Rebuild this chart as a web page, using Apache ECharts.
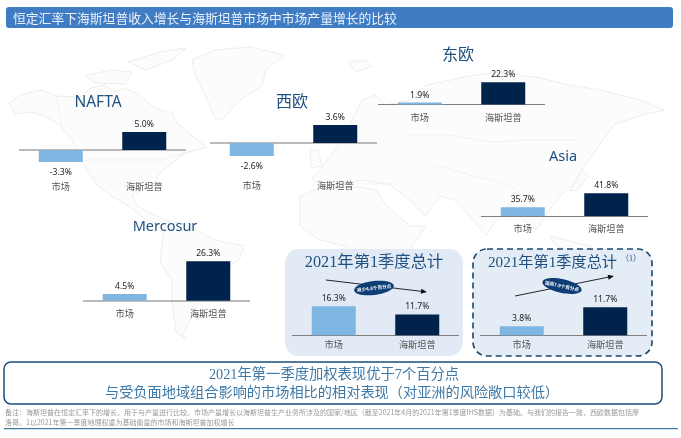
<!DOCTYPE html>
<html><head><meta charset="utf-8">
<style>html,body{margin:0;padding:0;background:#fff}#c{width:681px;height:438px}</style>
<script src="https://cdn.jsdelivr.net/npm/echarts@6/dist/echarts.min.js"></script>
</head><body><div id="c"></div>
<script>
const categories = ['市场', '海斯坦普'];
const naftaValues = [-3.3, 5.0];
const westEuropeValues = [-2.6, 3.6];
const eastEuropeValues = [1.9, 22.3];
const asiaValues = [35.7, 41.8];
const mercosurValues = [4.5, 26.3];
const totalValues = [16.3, 11.7];
const weightedValues = [3.8, 11.7];

const SANS = '"Noto Sans CJK SC","Noto Sans",sans-serif';
const SERIF = '"Liberation Serif","Noto Sans CJK SC",serif';
const MARKET = '#7FB6E1', HAIS = '#00234B', TITLE = '#1F5080';

const panels = [
  {v: naftaValues, left: 19, base: 0, axisY: 150, ppu: 3.6, min: -8, max: 6, margin: 3, line: '#A3A3A3'},
  {v: westEuropeValues, left: 210, base: 0, axisY: 143, ppu: 5, min: -6, max: 4, margin: 8, line: '#A3A3A3'},
  {v: eastEuropeValues, left: 378, base: 0, axisY: 104.5, ppu: 1, min: 0, max: 24, margin: 8, line: '#808080'},
  {v: asiaValues, left: 481, base: 31.9, axisY: 216, ppu: 2.3, min: 31.9, max: 43, margin: 8, line: '#808080'},
  {v: mercosurValues, left: 83, base: 0, axisY: 300.7, ppu: 1.5, min: 0, max: 28, margin: 8, line: '#A3A3A3'},
  {v: totalValues, left: 292, base: 0, axisY: 335.3, ppu: 1.78, min: 0, max: 18, margin: 5, line: '#808080'},
  {v: weightedValues, left: 480, base: 0, axisY: 335.3, ppu: 2.4, min: 0, max: 13, margin: 5, line: '#808080'}
];

const grids = [], xAxes = [], yAxes = [], series = [];
panels.forEach((p, i) => {
  const top = p.axisY - (p.max - p.base) * p.ppu;
  const height = (p.max - p.min) * p.ppu;
  grids.push({left: p.left, width: 167, top: top, height: height, containLabel: false});
  xAxes.push({type: 'category', gridIndex: i, data: categories, z: 8,
    axisLine: {show: false, onZero: false}, axisTick: {show: false},
    axisLabel: {interval: 0, margin: p.margin, color: '#555', fontSize: 9.2, fontFamily: SANS}});
  yAxes.push({type: 'value', gridIndex: i, min: p.min, max: p.max, show: false, splitLine: {show: false}});
  series.push({type: 'bar', xAxisIndex: i, yAxisIndex: i, z: 8, barWidth: 44,
    data: p.v.map(v => v < 0 ? {value: v, label: {distance: 6}} : v),
    itemStyle: {color: c => c.dataIndex === 0 ? MARKET : HAIS},
    label: {show: true, position: 'outside', distance: 3, color: '#222', fontSize: 8.6, fontFamily: '"Noto Sans",sans-serif',
      formatter: c => c.value.toFixed(1) + '%'},
    markLine: {silent: true, symbol: 'none', label: {show: false},
      lineStyle: {color: p.line, width: p.line === '#A3A3A3' ? 1.6 : 1.1, type: 'solid'},
      animation: false, data: [{yAxis: p.base}]},
    animation: false});
});

// Decorative background world outline (not chart data)
const landShapes = [
  [[9,103],[20,95],[42,90],[56,96],[80,97],[90,88],[105,85],[115,92],[125,88],[140,95],[150,105],[165,112],[172,112],[176,122],[190,134],[207,148],[195,150],[182,155],[170,165],[160,172],[155,182],[146,188],[132,195],[136,205],[150,213],[170,222],[160,225],[146,220],[130,207],[112,196],[98,186],[88,172],[82,160],[72,140],[60,125],[45,116],[30,112],[15,114]],
  [[85,76],[110,70],[132,72],[125,84],[96,83]],
  [[128,62],[160,52],[186,48],[172,60],[146,70]],
  [[192,60],[215,50],[250,47],[284,55],[266,70],[262,86],[240,100],[222,120],[215,118],[205,95],[195,75]],
  [[165,226],[178,222],[196,230],[215,240],[244,246],[240,258],[226,270],[216,285],[200,300],[190,320],[182,336],[186,338],[176,332],[172,300],[172,280],[160,262],[162,245]],
  [[300,196],[325,186],[360,187],[376,190],[386,205],[410,226],[426,226],[410,250],[400,275],[386,300],[366,305],[356,275],[346,246],[320,240],[300,226]],
  [[318,172],[335,150],[345,134],[362,100],[376,95],[385,105],[410,100],[426,85],[470,76],[500,72],[540,78],[570,85],[600,90],[640,100],[665,110],[642,115],[615,124],[603,140],[585,165],[575,182],[560,196],[546,215],[536,230],[520,216],[510,205],[495,222],[486,236],[470,216],[455,200],[440,196],[425,216],[410,200],[390,185],[365,180],[340,184],[320,186],[312,178]],
  [[575,278],[600,262],[622,272],[636,292],[626,308],[600,306],[576,302]],
  [[550,236],[590,246],[592,256],[556,246]],
  [[582,170],[588,176],[578,190],[570,191]],
  [[310,150],[318,150],[322,166],[311,168]],
  [[348,62],[365,60],[372,66],[356,72]],
  [[416,270],[424,268],[420,288],[414,286]]
];
const borderLines = [
  [[85,160],[160,160],[195,150]],
  [[56,96],[62,125]],
  [[405,135],[450,135],[490,142],[530,140],[575,140]],
  [[340,184],[395,184]],
  [[435,165],[470,175],[510,185],[545,215]],
  [[180,270],[200,285],[190,320]]
];

const g = [];
landShapes.forEach(pts => g.push({type: 'polygon', z: 0, silent: true, shape: {points: pts},
  style: {fill: '#FCFCFC', stroke: '#E8E8E8', lineWidth: 0.8}}));
borderLines.forEach(pts => g.push({type: 'polyline', z: 0, silent: true, shape: {points: pts},
  style: {fill: null, stroke: '#ECECEC', lineWidth: 0.7}}));

function txt(text, x, y, font, fill, align) {
  return {type: 'text', z: 5, silent: true, style: {text, x, y, font, fill, align: align || 'center', verticalAlign: 'middle'}};
}
function arrow(x1, y1, x2, y2) {
  const a = Math.atan2(y2 - y1, x2 - x1), L = 6, W = 2.6;
  const bx = x2 - L * Math.cos(a), by = y2 - L * Math.sin(a);
  return [
    {type: 'line', z: 4, silent: true, shape: {x1, y1, x2: bx, y2: by}, style: {stroke: '#111', lineWidth: 0.9}},
    {type: 'polygon', z: 4, silent: true, shape: {points: [[x2, y2],
      [bx - W * Math.sin(a), by + W * Math.cos(a)], [bx + W * Math.sin(a), by - W * Math.cos(a)]]}, style: {fill: '#111'}}
  ];
}
function badge(text, x, y, deg) {
  const r = -deg * Math.PI / 180;
  return [
    {type: 'ellipse', z: 5, silent: true, x, y, rotation: r, shape: {cx: 0, cy: 0, rx: 20, ry: 7}, style: {fill: '#0E3D75'}},
    {type: 'text', z: 6, silent: true, x, y, rotation: r, style: {text, x: 0, y: 0, align: 'center', verticalAlign: 'middle', fill: '#fff', font: 'bold 4.6px ' + SANS}}
  ];
}

g.push({type: 'rect', z: 1, silent: true, shape: {x: 6, y: 7, width: 667, height: 21, r: 3}, style: {fill: '#3F7CC4'}});
g.push(txt('恒定汇率下海斯坦普收入增长与海斯坦普市场中市场产量增长的比较', 13, 18, '12.8px ' + SANS, '#EAF1FA', 'left'));

g.push(txt('NAFTA', 98, 103, '15.5px "Noto Sans",' + SANS, TITLE));
g.push(txt('西欧', 292, 101, '16px ' + SANS, TITLE));
g.push(txt('东欧', 458, 54, '16px ' + SANS, TITLE));
g.push(txt('Asia', 563, 157, '14.5px "Noto Sans",' + SANS, TITLE));
g.push(txt('Mercosur', 165, 227, '14.5px "Noto Sans",' + SANS, TITLE));

g.push({type: 'rect', z: 1, silent: true, shape: {x: 285, y: 249, width: 178, height: 107, r: 14}, style: {fill: 'rgba(224,233,244,0.92)'}});
g.push({type: 'rect', z: 1, silent: true, shape: {x: 473, y: 249, width: 179, height: 107, r: 14},
  style: {fill: 'rgba(224,233,244,0.88)', stroke: '#17476F', lineWidth: 1.6, lineDash: [6, 4]}});
g.push(txt('2021年第1季度总计', 374, 263, '16.3px ' + SERIF, TITLE));
g.push(txt('2021年第1季度总计', 552.5, 263, '15.2px ' + SERIF, TITLE));
g.push(txt('（1）', 631, 259, '8px ' + SERIF, TITLE));
g.push(...arrow(326, 280, 427, 292), ...badge('减少4.6个百分点', 374, 288, -7));
g.push(...arrow(515, 296, 614, 276), ...badge('提高7.9个百分点', 562, 286, 12));

g.push({type: 'rect', z: 1, silent: true, shape: {x: 4, y: 362, width: 658, height: 42, r: 7}, style: {fill: '#fff', stroke: '#1A4F7F', lineWidth: 1.5}});
g.push(txt('2021年第一季度加权表现优于7个百分点', 334, 375, '14.3px ' + SERIF, '#3C78A8'));
g.push(txt('与受负面地域组合影响的市场相比的相对表现（对亚洲的风险敞口较低）', 332, 393, '14.2px ' + SERIF, '#3C78A8'));
g.push(txt('备注：海斯坦普在恒定汇率下的增长，用于与产量进行比较。市场产量增长以海斯坦普生产业务所涉及的国家/地区（截至2021年4月的2021年第1季度IHS数据）为基础。与我们的报告一致，西欧数据包括摩', 5, 412, '7px ' + SANS, '#999', 'left'));
g.push(txt('洛哥。1以2021年第一季度地理权重为基础衡量的市场和海斯坦普加权增长', 5, 422, '7px ' + SANS, '#999', 'left'));
g.push({type: 'line', z: 1, silent: true, shape: {x1: 4, y1: 428.7, x2: 678, y2: 428.7}, style: {stroke: '#1A5A8A', lineWidth: 1}});

const chart = echarts.init(document.getElementById('c'), null, {renderer: 'canvas'});
chart.setOption({animation: false, backgroundColor: '#fff', grid: grids, xAxis: xAxes, yAxis: yAxes, series: series, graphic: {elements: g}});
</script></body></html>
